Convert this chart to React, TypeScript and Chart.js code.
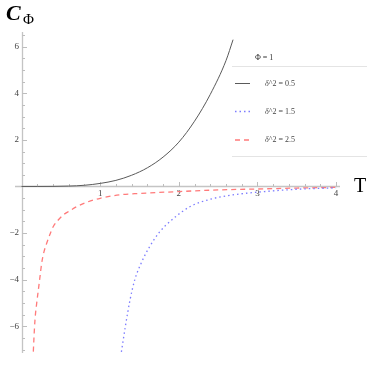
import React, { useEffect, useRef } from "react";
import { Chart, registerables } from "chart.js";
Chart.register(...registerables);

// Series (T, C_Φ)
const tBlack = [0, 0.2, 0.4, 0.6, 0.8, 1.0, 1.2, 1.4, 1.6, 1.8, 2.0, 2.2, 2.4, 2.6, 2.69];
const cBlack = [0, 0, 0.003, 0.016, 0.05, 0.13, 0.26, 0.48, 0.8, 1.26, 1.9, 2.8, 3.95, 5.4, 6.3];

const tBlue = [1.27, 1.32, 1.38, 1.44, 1.53, 1.63, 1.76, 1.91, 2.14, 2.4, 2.69, 2.99, 3.5, 4.0];
const cBlue = [-7.1, -6.02, -4.87, -4.01, -3.23, -2.58, -1.94, -1.44, -0.87, -0.55, -0.36, -0.25, -0.12, -0.06];

const tRed = [0.15, 0.159, 0.171, 0.193, 0.214, 0.235, 0.256, 0.286, 0.32, 0.362, 0.404, 0.467, 0.531, 0.616, 0.701, 0.828, 1.0, 1.25, 1.5, 2.0, 2.5, 3.0, 3.5, 4.0];
const cRed = [-7.09, -6.44, -5.73, -5.01, -4.44, -3.87, -3.3, -2.8, -2.44, -2.05, -1.72, -1.44, -1.22, -1.04, -0.87, -0.68, -0.51, -0.36, -0.3, -0.22, -0.15, -0.11, -0.07, -0.04];

const seriesLabels = ["δ^2 = 0.5", "δ^2 = 1.5", "δ^2 = 2.5"];
const legendTitle = "Φ = 1";
const xTicks = [1, 2, 3, 4];
const yTicks = [-6, -4, -2, 2, 4, 6];

const toPts = (t: number[], c: number[]) => t.map((v, i) => ({ x: v, y: c[i] }));

const SERIF = '"Liberation Serif", serif';

const mmaPlugin = {
  id: "mmaAxes",
  beforeDraw(chart: any) {
    const { ctx, width, height } = chart;
    ctx.save();
    ctx.fillStyle = "#ffffff";
    ctx.fillRect(0, 0, width, height);
    ctx.restore();
  },
  beforeDatasetsDraw(chart: any) {
    const { ctx, chartArea, scales } = chart;
    const xs = scales.x, ys = scales.y;
    const x0 = Math.round(xs.getPixelForValue(0)) + 0.5;
    const y0 = Math.round(ys.getPixelForValue(0)) + 0.5;
    ctx.save();
    ctx.strokeStyle = "#c4c4c4";
    ctx.lineWidth = 1.3;
    ctx.beginPath();
    ctx.moveTo(chartArea.left, y0);
    ctx.lineTo(chartArea.right, y0);
    ctx.moveTo(x0, chartArea.top);
    ctx.lineTo(x0, chartArea.bottom);
    ctx.stroke();

    ctx.lineWidth = 1;
    ctx.strokeStyle = "#bdbdbd";
    for (let k = 1; k <= 20; k++) {
      const v = k * 0.2;
      const px = Math.round(xs.getPixelForValue(v)) + 0.5;
      const major = k % 5 === 0;
      ctx.beginPath();
      ctx.moveTo(px, y0);
      ctx.lineTo(px, y0 - (major ? 4.5 : 2.5));
      ctx.stroke();
    }
    for (let k = -14; k <= 13; k++) {
      if (k === 0) continue;
      const v = k * 0.5;
      if (v < ys.min || v > ys.max) continue;
      const py = Math.round(ys.getPixelForValue(v)) + 0.5;
      const major = k % 4 === 0;
      ctx.beginPath();
      ctx.moveTo(x0, py);
      ctx.lineTo(x0 + (major ? 4.5 : 2.5), py);
      ctx.stroke();
    }

    ctx.fillStyle = "#444";
    ctx.font = `9px ${SERIF}`;
    ctx.textAlign = "center";
    ctx.textBaseline = "middle";
    xTicks.forEach((v) => {
      ctx.fillText(String(v), xs.getPixelForValue(v), y0 + 7);
    });
    ctx.textAlign = "right";
    yTicks.forEach((v) => {
      const s = v < 0 ? "\u2212" + Math.abs(v) : String(v);
      ctx.fillText(s, x0 - 3.5, ys.getPixelForValue(v));
    });

    ctx.fillStyle = "#000";
    ctx.textAlign = "left";
    ctx.textBaseline = "alphabetic";
    ctx.font = `italic bold 22px ${SERIF}`;
    ctx.fillText("C", 6, 20);
    ctx.font = `15px ${SERIF}`;
    ctx.fillText("Φ", 23, 24);
    ctx.font = `20px ${SERIF}`;
    ctx.fillText("T", 354, 192);
    ctx.restore();
  },
  afterDraw(chart: any) {
    const { ctx } = chart;
    ctx.save();
    ctx.strokeStyle = "#e4e4e4";
    ctx.lineWidth = 1;
    ctx.beginPath();
    ctx.moveTo(232, 66.5);
    ctx.lineTo(367, 66.5);
    ctx.moveTo(232, 156.5);
    ctx.lineTo(367, 156.5);
    ctx.stroke();
    ctx.fillStyle = "#333";
    ctx.font = `8px ${SERIF}`;
    ctx.textBaseline = "middle";
    ctx.textAlign = "left";
    ctx.fillText(legendTitle, 255, 58);
    const rows = [83.5, 111.5, 140];
    chart.data.datasets.forEach((ds: any, i: number) => {
      ctx.save();
      ctx.strokeStyle = ds.borderColor;
      ctx.lineWidth = ds.borderWidth;
      ctx.setLineDash(ds.borderDash || []);
      ctx.beginPath();
      ctx.moveTo(235, rows[i]);
      ctx.lineTo(250, rows[i]);
      ctx.stroke();
      ctx.restore();
      ctx.fillStyle = "#444";
      ctx.font = `italic 8px ${SERIF}`;
      ctx.fillText(seriesLabels[i].slice(0, 1), 265, rows[i]);
      const w = ctx.measureText(seriesLabels[i].slice(0, 1)).width;
      ctx.font = `8px ${SERIF}`;
      ctx.fillText(seriesLabels[i].slice(1), 265 + w, rows[i]);
    });
    ctx.restore();
  },
};

export default function App() {
  const ref = useRef<HTMLCanvasElement | null>(null);
  useEffect(() => {
    if (!ref.current) return;
    const chart = new Chart(ref.current, {
      type: "scatter",
      data: {
        datasets: [
          {
            label: seriesLabels[0],
            data: toPts(tBlack, cBlack),
            showLine: true,
            borderColor: "#5a5a5a",
            borderWidth: 1,
            pointRadius: 0,
            cubicInterpolationMode: "monotone",
          },
          {
            label: seriesLabels[1],
            data: toPts(tBlue, cBlue),
            showLine: true,
            borderColor: "#7c7cff",
            borderWidth: 1.3,
            borderDash: [1.5, 3],
            pointRadius: 0,
            cubicInterpolationMode: "monotone",
          },
          {
            label: seriesLabels[2],
            data: toPts(tRed, cRed),
            showLine: true,
            borderColor: "#ff7a7a",
            borderWidth: 1.3,
            borderDash: [5, 4],
            pointRadius: 0,
            cubicInterpolationMode: "monotone",
          },
        ] as any,
      },
      options: {
        animation: false,
        responsive: false,
        devicePixelRatio: 1,
        layout: { padding: { left: 15, right: 34, top: 32, bottom: 13 } },
        plugins: { legend: { display: false }, tooltip: { enabled: false } },
        scales: {
          x: { type: "linear", min: -0.083, max: 4.05, display: false },
          y: { type: "linear", min: -7.15, max: 6.63, display: false },
        },
      },
      plugins: [mmaPlugin],
    });
    return () => chart.destroy();
  }, []);
  return (
    <div style={{ position: "absolute", left: 0, top: 0, width: 374, height: 366 }}>
      <canvas ref={ref} width={374} height={366} style={{ display: "block" }} />
    </div>
  );
}
